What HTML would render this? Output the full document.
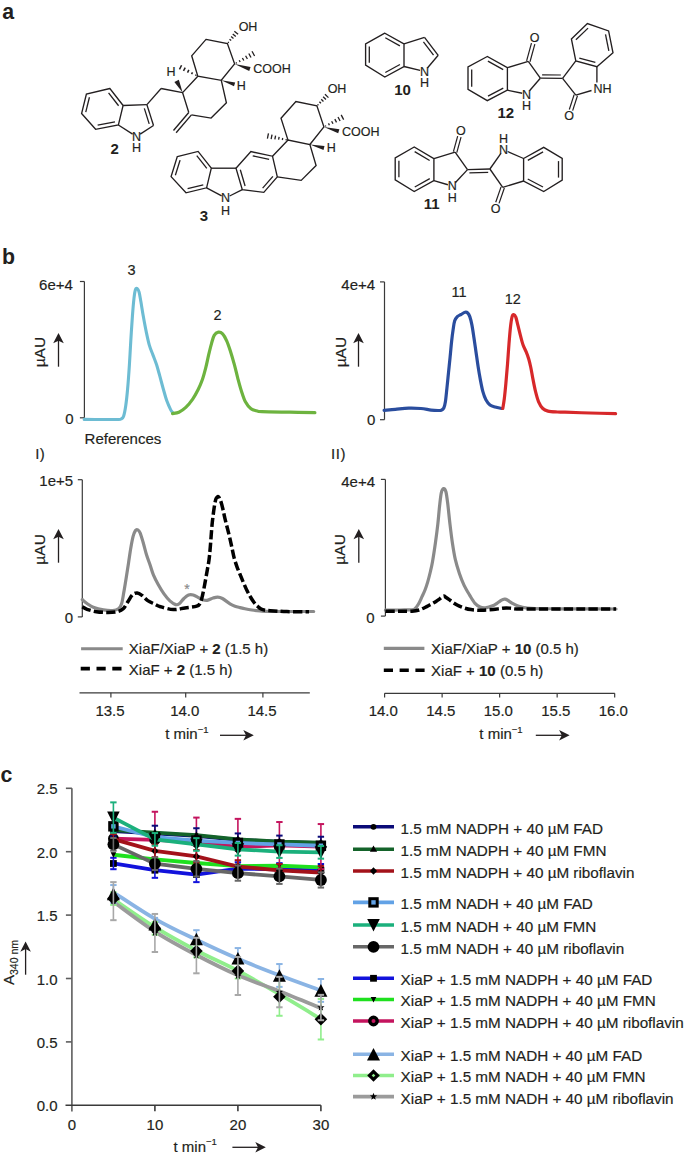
<!DOCTYPE html>
<html><head><meta charset="utf-8"><style>
html,body{margin:0;padding:0;background:#fff;}
body{width:685px;height:1156px;overflow:hidden;}
svg{display:block;font-family:"Liberation Sans", sans-serif;}
</style></head><body>
<svg width="685" height="1156" viewBox="0 0 685 1156">
<rect width="685" height="1156" fill="#fff"/>
<text x="2.2" y="18.8" font-size="21.3" text-anchor="start" font-weight="bold" fill="#231f20" >a</text>
<text x="2" y="263.8" font-size="21.3" text-anchor="start" font-weight="bold" fill="#231f20" >b</text>
<text x="0.5" y="782" font-size="21.3" text-anchor="start" font-weight="bold" fill="#231f20" >c</text>
<polygon points="109.9,88.5 86.4,94 81.6,113.5 95.6,129.3 118.4,125 123.1,105.5" fill="none" stroke="#231f20" stroke-width="1.35" stroke-linejoin="miter" />
<line x1="89.42" y1="97.22" x2="85.77" y2="112.04" stroke="#231f20" stroke-width="1.3" />
<line x1="108.56" y1="92.81" x2="118.59" y2="105.73" stroke="#231f20" stroke-width="1.3" />
<line x1="97.65" y1="125.15" x2="114.98" y2="121.88" stroke="#231f20" stroke-width="1.3" />
<line x1="123.1" y1="105.5" x2="146.9" y2="104.6" stroke="#231f20" stroke-width="1.35" />
<line x1="146.9" y1="104.6" x2="153.5" y2="125.5" stroke="#231f20" stroke-width="1.35" />
<line x1="153.5" y1="125.5" x2="140.18" y2="134.07" stroke="#231f20" stroke-width="1.35" />
<line x1="118.4" y1="125" x2="132.61" y2="134.08" stroke="#231f20" stroke-width="1.35" />
<line x1="144.33" y1="108.4" x2="149.21" y2="123.87" stroke="#231f20" stroke-width="1.3" />
<text x="136.4" y="141.1" font-size="12.5" text-anchor="middle" font-weight="normal" fill="#231f20" stroke="#231f20" stroke-width="0.18" >N</text>
<text x="136.4" y="152.3" font-size="12.5" text-anchor="middle" font-weight="normal" fill="#231f20" stroke="#231f20" stroke-width="0.18" >H</text>
<text x="114.6" y="154.16" font-size="15" text-anchor="middle" font-weight="bold" fill="#231f20" >2</text>
<line x1="146.9" y1="104.6" x2="161.1" y2="88.5" stroke="#231f20" stroke-width="1.35" />
<line x1="161.1" y1="88.5" x2="182.6" y2="92.6" stroke="#231f20" stroke-width="1.35" />
<polygon points="206,39.4 227.4,43.5 234.6,63.9 221.3,80.3 197.8,76.2 191.7,55.8" fill="none" stroke="#231f20" stroke-width="1.35" stroke-linejoin="miter" />
<line x1="188.77" y1="112.56" x2="173.47" y2="130.46" stroke="#231f20" stroke-width="1.35" />
<line x1="191.43" y1="114.84" x2="176.13" y2="132.74" stroke="#231f20" stroke-width="1.35" />
<polyline points="191.43,114.84 211.1,118.1 226.4,102.8 221.3,80.3" fill="none" stroke="#231f20" stroke-width="1.35" stroke-linejoin="miter" />
<polyline points="188.77,112.56 182.6,92.6 197.8,76.2" fill="none" stroke="#231f20" stroke-width="1.35" stroke-linejoin="miter" />
<polygon points="182.6,92.6 178.83,79.67 174.37,81.93" fill="#231f20"/>
<line x1="195.6" y1="75.75" x2="196.16" y2="74.67" stroke="#231f20" stroke-width="1.5" />
<line x1="191.57" y1="74.15" x2="192.51" y2="72.31" stroke="#231f20" stroke-width="1.5" />
<line x1="187.54" y1="72.54" x2="188.86" y2="69.96" stroke="#231f20" stroke-width="1.5" />
<line x1="183.5" y1="70.93" x2="185.22" y2="67.61" stroke="#231f20" stroke-width="1.5" />
<line x1="179.47" y1="69.33" x2="181.57" y2="65.25" stroke="#231f20" stroke-width="1.5" />
<text x="171" y="75.9" font-size="12.5" text-anchor="middle" font-weight="normal" fill="#231f20" stroke="#231f20" stroke-width="0.18" >H</text>
<polygon points="221.3,80.3 234.01,86.31 235.19,82.49" fill="#231f20"/>
<text x="241.2" y="89.5" font-size="12.5" text-anchor="middle" font-weight="normal" fill="#231f20" stroke="#231f20" stroke-width="0.18" >H</text>
<line x1="227.9" y1="41.91" x2="228.86" y2="42.71" stroke="#231f20" stroke-width="1.3" />
<line x1="229.51" y1="39.25" x2="231.17" y2="40.61" stroke="#231f20" stroke-width="1.3" />
<line x1="231.12" y1="36.58" x2="233.48" y2="38.52" stroke="#231f20" stroke-width="1.3" />
<line x1="232.74" y1="33.91" x2="235.78" y2="36.43" stroke="#231f20" stroke-width="1.3" />
<line x1="234.35" y1="31.25" x2="238.09" y2="34.33" stroke="#231f20" stroke-width="1.3" />
<text x="248" y="31.3" font-size="12.5" text-anchor="middle" font-weight="normal" fill="#231f20" stroke="#231f20" stroke-width="0.18" >OH</text>
<line x1="236.01" y1="62.43" x2="236.59" y2="63.5" stroke="#231f20" stroke-width="1.3" />
<line x1="239.21" y1="60.2" x2="240.19" y2="62" stroke="#231f20" stroke-width="1.3" />
<line x1="242.41" y1="57.97" x2="243.79" y2="60.5" stroke="#231f20" stroke-width="1.3" />
<line x1="245.61" y1="55.74" x2="247.39" y2="59" stroke="#231f20" stroke-width="1.3" />
<line x1="248.81" y1="53.51" x2="250.99" y2="57.49" stroke="#231f20" stroke-width="1.3" />
<line x1="252" y1="51.27" x2="254.6" y2="55.99" stroke="#231f20" stroke-width="1.3" />
<polygon points="234.6,63.9 249.24,70.99 250.56,67.01" fill="#231f20"/>
<text x="272" y="73.3" font-size="12.5" text-anchor="middle" font-weight="normal" fill="#231f20" stroke="#231f20" stroke-width="0.18" >COOH</text>
<polygon points="177.3,156.6 198.1,151.4 211.3,168.2 206.6,187.8 186,192.8 171.1,176.6" fill="none" stroke="#231f20" stroke-width="1.35" stroke-linejoin="miter" />
<line x1="180.09" y1="160.1" x2="175.38" y2="175.3" stroke="#231f20" stroke-width="1.3" />
<line x1="196.77" y1="155.7" x2="206.81" y2="168.47" stroke="#231f20" stroke-width="1.3" />
<line x1="203.26" y1="184.8" x2="187.6" y2="188.6" stroke="#231f20" stroke-width="1.3" />
<polygon points="236,168.2 250.9,151.6 272.5,156.2 277.3,176.9 263.8,192.4 242.3,189.6" fill="none" stroke="#231f20" stroke-width="1.35" stroke-linejoin="miter" />
<line x1="252.72" y1="155.77" x2="269.14" y2="159.27" stroke="#231f20" stroke-width="1.3" />
<line x1="272.89" y1="176.33" x2="262.63" y2="188.11" stroke="#231f20" stroke-width="1.3" />
<line x1="245.09" y1="185.99" x2="240.31" y2="169.72" stroke="#231f20" stroke-width="1.3" />
<line x1="211.3" y1="168.2" x2="236" y2="168.2" stroke="#231f20" stroke-width="1.35" />
<line x1="206.6" y1="187.8" x2="221.64" y2="195.87" stroke="#231f20" stroke-width="1.35" />
<line x1="242.3" y1="189.6" x2="229.62" y2="195.98" stroke="#231f20" stroke-width="1.35" />
<text x="225.6" y="202.3" font-size="12.5" text-anchor="middle" font-weight="normal" fill="#231f20" stroke="#231f20" stroke-width="0.18" >N</text>
<text x="225.6" y="215.4" font-size="12.5" text-anchor="middle" font-weight="normal" fill="#231f20" stroke="#231f20" stroke-width="0.18" >H</text>
<text x="204" y="220.56" font-size="15" text-anchor="middle" font-weight="bold" fill="#231f20" >3</text>
<polyline points="272.5,156.2 288,140.1 309.9,144.5 316.1,165.5 301.2,180.4 277.3,176.9" fill="none" stroke="#231f20" stroke-width="1.35" stroke-linejoin="miter" />
<polyline points="288,140.1 281,118.2 295.9,101.5 316.9,105.9 323.9,126.9 309.9,144.5" fill="none" stroke="#231f20" stroke-width="1.35" stroke-linejoin="miter" />
<line x1="286.06" y1="140.33" x2="286.29" y2="139.14" stroke="#231f20" stroke-width="1.3" />
<line x1="282.32" y1="140" x2="282.73" y2="138" stroke="#231f20" stroke-width="1.3" />
<line x1="278.59" y1="139.68" x2="279.16" y2="136.85" stroke="#231f20" stroke-width="1.3" />
<line x1="274.86" y1="139.36" x2="275.59" y2="135.71" stroke="#231f20" stroke-width="1.3" />
<line x1="271.13" y1="139.03" x2="272.02" y2="134.57" stroke="#231f20" stroke-width="1.3" />
<line x1="267.39" y1="138.71" x2="268.46" y2="133.43" stroke="#231f20" stroke-width="1.3" />
<line x1="317.54" y1="104.35" x2="318.44" y2="105.23" stroke="#231f20" stroke-width="1.3" />
<line x1="319.4" y1="101.82" x2="320.94" y2="103.32" stroke="#231f20" stroke-width="1.3" />
<line x1="321.26" y1="99.28" x2="323.44" y2="101.42" stroke="#231f20" stroke-width="1.3" />
<line x1="323.12" y1="96.75" x2="325.94" y2="99.51" stroke="#231f20" stroke-width="1.3" />
<line x1="324.98" y1="94.21" x2="328.44" y2="97.61" stroke="#231f20" stroke-width="1.3" />
<text x="337" y="93.1" font-size="12.5" text-anchor="middle" font-weight="normal" fill="#231f20" stroke="#231f20" stroke-width="0.18" >OH</text>
<line x1="325.3" y1="125.49" x2="325.86" y2="126.56" stroke="#231f20" stroke-width="1.3" />
<line x1="328.48" y1="123.37" x2="329.42" y2="125.18" stroke="#231f20" stroke-width="1.3" />
<line x1="331.65" y1="121.25" x2="332.98" y2="123.8" stroke="#231f20" stroke-width="1.3" />
<line x1="334.83" y1="119.13" x2="336.54" y2="122.42" stroke="#231f20" stroke-width="1.3" />
<line x1="338" y1="117.01" x2="340.1" y2="121.04" stroke="#231f20" stroke-width="1.3" />
<line x1="341.18" y1="114.89" x2="343.66" y2="119.66" stroke="#231f20" stroke-width="1.3" />
<polygon points="323.9,126.9 338.21,133.31 339.39,129.29" fill="#231f20"/>
<text x="360.7" y="136" font-size="12.5" text-anchor="middle" font-weight="normal" fill="#231f20" stroke="#231f20" stroke-width="0.18" >COOH</text>
<polygon points="309.9,144.5 323.52,149.94 324.48,146.06" fill="#231f20"/>
<text x="331.3" y="151.9" font-size="12.5" text-anchor="middle" font-weight="normal" fill="#231f20" stroke="#231f20" stroke-width="0.18" >H</text>
<polygon points="384.8,33.2 365.6,43.9 365.6,65.2 384.8,77 404,66.5 404,43.9" fill="none" stroke="#231f20" stroke-width="1.35" stroke-linejoin="miter" />
<line x1="369.3" y1="46.46" x2="369.3" y2="62.64" stroke="#231f20" stroke-width="1.3" />
<line x1="385.3" y1="37.72" x2="399.89" y2="45.85" stroke="#231f20" stroke-width="1.3" />
<line x1="385.33" y1="72.49" x2="399.92" y2="64.51" stroke="#231f20" stroke-width="1.3" />
<line x1="404" y1="43.9" x2="424.5" y2="37.3" stroke="#231f20" stroke-width="1.35" />
<line x1="424.5" y1="37.3" x2="438.2" y2="55.3" stroke="#231f20" stroke-width="1.35" />
<line x1="438.2" y1="55.3" x2="427.42" y2="67.97" stroke="#231f20" stroke-width="1.35" />
<line x1="404" y1="66.5" x2="420.12" y2="70.35" stroke="#231f20" stroke-width="1.35" />
<line x1="423.42" y1="41.82" x2="433.55" y2="55.14" stroke="#231f20" stroke-width="1.3" />
<text x="424.5" y="75.7" font-size="12.5" text-anchor="middle" font-weight="normal" fill="#231f20" stroke="#231f20" stroke-width="0.18" >N</text>
<text x="424.5" y="86.9" font-size="12.5" text-anchor="middle" font-weight="normal" fill="#231f20" stroke="#231f20" stroke-width="0.18" >H</text>
<text x="402.6" y="95.26" font-size="15" text-anchor="middle" font-weight="bold" fill="#231f20" >10</text>
<polygon points="487.3,56.5 468,66.9 468,89.4 487.3,100.7 507.4,90.2 507.4,67.7" fill="none" stroke="#231f20" stroke-width="1.35" stroke-linejoin="miter" />
<line x1="471.7" y1="69.6" x2="471.7" y2="86.7" stroke="#231f20" stroke-width="1.3" />
<line x1="487.91" y1="61.08" x2="503.19" y2="69.59" stroke="#231f20" stroke-width="1.3" />
<line x1="488" y1="96.16" x2="503.27" y2="88.18" stroke="#231f20" stroke-width="1.3" />
<line x1="507.4" y1="67.7" x2="528.3" y2="61.3" stroke="#231f20" stroke-width="1.35" />
<line x1="528.3" y1="61.3" x2="540.3" y2="78.2" stroke="#231f20" stroke-width="1.35" />
<line x1="540.3" y1="78.2" x2="529.53" y2="90.78" stroke="#231f20" stroke-width="1.35" />
<line x1="507.4" y1="90.2" x2="522.19" y2="93.28" stroke="#231f20" stroke-width="1.35" />
<line x1="529.99" y1="61.76" x2="534.85" y2="44.06" stroke="#231f20" stroke-width="1.2" />
<line x1="526.61" y1="60.84" x2="531.48" y2="43.13" stroke="#231f20" stroke-width="1.2" />
<text x="534.7" y="42.3" font-size="12.5" text-anchor="middle" font-weight="normal" fill="#231f20" stroke="#231f20" stroke-width="0.18" >O</text>
<text x="526.6" y="98.5" font-size="12.5" text-anchor="middle" font-weight="normal" fill="#231f20" stroke="#231f20" stroke-width="0.18" >N</text>
<text x="526.6" y="109.9" font-size="12.5" text-anchor="middle" font-weight="normal" fill="#231f20" stroke="#231f20" stroke-width="0.18" >H</text>
<text x="505.8" y="117.86" font-size="15" text-anchor="middle" font-weight="bold" fill="#231f20" >12</text>
<line x1="540.3" y1="78.2" x2="562.6" y2="78.4" stroke="#231f20" stroke-width="1.35" />
<line x1="542.11" y1="74.82" x2="560.85" y2="74.98" stroke="#231f20" stroke-width="1.2" />
<polygon points="575.8,60.9 571.4,39 587.4,23.6 608.6,30.9 613,52.8 596.9,66.7" fill="none" stroke="#231f20" stroke-width="1.35" stroke-linejoin="miter" />
<line x1="575.89" y1="39.82" x2="588.05" y2="28.11" stroke="#231f20" stroke-width="1.3" />
<line x1="605.5" y1="34.26" x2="608.84" y2="50.9" stroke="#231f20" stroke-width="1.3" />
<line x1="579.31" y1="58.03" x2="595.35" y2="62.44" stroke="#231f20" stroke-width="1.3" />
<line x1="562.6" y1="78.4" x2="575.8" y2="60.9" stroke="#231f20" stroke-width="1.35" />
<line x1="562.6" y1="78.4" x2="575.8" y2="95.2" stroke="#231f20" stroke-width="1.35" />
<line x1="596.9" y1="66.7" x2="596.9" y2="82.5" stroke="#231f20" stroke-width="1.35" />
<line x1="575.8" y1="95.2" x2="591.5" y2="90.5" stroke="#231f20" stroke-width="1.35" />
<line x1="574.13" y1="94.66" x2="569.32" y2="109.54" stroke="#231f20" stroke-width="1.2" />
<line x1="577.47" y1="95.74" x2="572.65" y2="110.62" stroke="#231f20" stroke-width="1.2" />
<text x="569.2" y="119.9" font-size="12.5" text-anchor="middle" font-weight="normal" fill="#231f20" stroke="#231f20" stroke-width="0.18" >O</text>
<text x="602.5" y="92.9" font-size="12.5" text-anchor="middle" font-weight="normal" fill="#231f20" stroke="#231f20" stroke-width="0.18" >NH</text>
<polygon points="414.2,147 395.2,158 395.2,179.9 414.2,191.5 433.9,180.6 433.9,158.7" fill="none" stroke="#231f20" stroke-width="1.35" stroke-linejoin="miter" />
<line x1="398.9" y1="160.63" x2="398.9" y2="177.27" stroke="#231f20" stroke-width="1.3" />
<line x1="414.67" y1="151.59" x2="429.65" y2="160.48" stroke="#231f20" stroke-width="1.3" />
<line x1="414.77" y1="186.95" x2="429.74" y2="178.67" stroke="#231f20" stroke-width="1.3" />
<line x1="433.9" y1="158.7" x2="455.1" y2="152.1" stroke="#231f20" stroke-width="1.35" />
<line x1="455.1" y1="152.1" x2="467.5" y2="169.6" stroke="#231f20" stroke-width="1.35" />
<line x1="467.5" y1="169.6" x2="455.27" y2="182.71" stroke="#231f20" stroke-width="1.35" />
<line x1="433.9" y1="180.6" x2="447.88" y2="184.73" stroke="#231f20" stroke-width="1.35" />
<line x1="456.79" y1="152.56" x2="461.05" y2="137.06" stroke="#231f20" stroke-width="1.2" />
<line x1="453.41" y1="151.64" x2="457.68" y2="136.13" stroke="#231f20" stroke-width="1.2" />
<text x="460.9" y="135.3" font-size="12.5" text-anchor="middle" font-weight="normal" fill="#231f20" stroke="#231f20" stroke-width="0.18" >O</text>
<text x="452.2" y="190.3" font-size="12.5" text-anchor="middle" font-weight="normal" fill="#231f20" stroke="#231f20" stroke-width="0.18" >N</text>
<text x="452.2" y="201.7" font-size="12.5" text-anchor="middle" font-weight="normal" fill="#231f20" stroke="#231f20" stroke-width="0.18" >H</text>
<text x="431.7" y="209.16" font-size="15" text-anchor="middle" font-weight="bold" fill="#231f20" >11</text>
<line x1="467.5" y1="169.6" x2="489.9" y2="169" stroke="#231f20" stroke-width="1.35" />
<line x1="469.38" y1="172.95" x2="488.2" y2="172.45" stroke="#231f20" stroke-width="1.2" />
<line x1="489.9" y1="169" x2="500.91" y2="153.38" stroke="#231f20" stroke-width="1.35" />
<line x1="523.6" y1="158.5" x2="507.62" y2="151.5" stroke="#231f20" stroke-width="1.35" />
<line x1="489.9" y1="169" x2="502.7" y2="187.4" stroke="#231f20" stroke-width="1.35" />
<line x1="502.7" y1="187.4" x2="523.6" y2="181" stroke="#231f20" stroke-width="1.35" />
<line x1="501.05" y1="186.83" x2="495.73" y2="202.25" stroke="#231f20" stroke-width="1.2" />
<line x1="504.35" y1="187.97" x2="499.04" y2="203.39" stroke="#231f20" stroke-width="1.2" />
<text x="495.5" y="212.6" font-size="12.5" text-anchor="middle" font-weight="normal" fill="#231f20" stroke="#231f20" stroke-width="0.18" >O</text>
<text x="503.5" y="154" font-size="12.5" text-anchor="middle" font-weight="normal" fill="#231f20" stroke="#231f20" stroke-width="0.18" >N</text>
<text x="503.5" y="142.8" font-size="12.5" text-anchor="middle" font-weight="normal" fill="#231f20" stroke="#231f20" stroke-width="0.18" >H</text>
<polygon points="523.6,158.5 543.7,147.3 562.2,158.5 562.2,180.2 543.7,191.5 523.6,181" fill="none" stroke="#231f20" stroke-width="1.35" stroke-linejoin="miter" />
<line x1="527.81" y1="160.39" x2="543.09" y2="151.88" stroke="#231f20" stroke-width="1.3" />
<line x1="558.5" y1="161.1" x2="558.5" y2="177.6" stroke="#231f20" stroke-width="1.3" />
<line x1="543" y1="186.96" x2="527.73" y2="178.98" stroke="#231f20" stroke-width="1.3" />
<line x1="84.4" y1="281.5" x2="84.4" y2="417.8" stroke="#3a3a3a" stroke-width="1.2" />
<line x1="79.9" y1="281.5" x2="84.4" y2="281.5" stroke="#3a3a3a" stroke-width="1.2" />
<line x1="79.9" y1="417.8" x2="84.4" y2="417.8" stroke="#3a3a3a" stroke-width="1.2" />
<text x="72.9" y="289.66" font-size="15" text-anchor="end" font-weight="normal" fill="#231f20" stroke="#231f20" stroke-width="0.18" >6e+4</text>
<text x="73.7" y="423.56" font-size="15" text-anchor="end" font-weight="normal" fill="#231f20" stroke="#231f20" stroke-width="0.18" >0</text>
<text transform="translate(45,352.1) rotate(-90)" x="0" y="0" font-size="15.5" text-anchor="middle" fill="#231f20" stroke="#231f20" stroke-width="0.18">µAU</text>
<line x1="58.5" y1="366.7" x2="58.5" y2="339.1" stroke="#231f20" stroke-width="1.3" />
<polygon points="58.5,333.1 63.8,343.3 58.5,340.7 53.2,343.3" fill="#231f20"/>
<text x="131.5" y="274.99" font-size="14.5" text-anchor="middle" font-weight="normal" fill="#231f20" stroke="#231f20" stroke-width="0.18" >3</text>
<text x="217.5" y="320.49" font-size="14.5" text-anchor="middle" font-weight="normal" fill="#231f20" stroke="#231f20" stroke-width="0.18" >2</text>
<text x="84.6" y="444.16" font-size="15" text-anchor="start" font-weight="normal" fill="#231f20" stroke="#231f20" stroke-width="0.18" >References</text>
<text x="35.2" y="458.76" font-size="15" text-anchor="start" font-weight="normal" fill="#231f20" stroke="#231f20" stroke-width="0.18" letter-spacing="0.4">I)</text>
<path d="M84.2,419.4 C86.83,419.42 94.37,419.48 100,419.5 C105.63,419.52 114.5,419.58 118,419.5 C121.5,419.42 120.08,419.5 121,419 C121.92,418.5 122.72,418.67 123.5,416.5 C124.28,414.33 125.02,410.58 125.7,406 C126.38,401.42 126.98,395.87 127.6,389 C128.22,382.13 128.87,372.87 129.4,364.8 C129.93,356.73 130.3,348.68 130.8,340.6 C131.3,332.52 131.87,323.37 132.4,316.3 C132.93,309.23 133.5,302.63 134,298.2 C134.5,293.77 134.87,291.32 135.4,289.7 C135.93,288.08 136.58,288.1 137.2,288.5 C137.82,288.9 138.48,289.88 139.1,292.1 C139.72,294.32 140.2,297.77 140.9,301.8 C141.6,305.83 142.4,311.25 143.3,316.3 C144.2,321.35 145.28,327.25 146.3,332.1 C147.32,336.95 148.28,341.57 149.4,345.4 C150.52,349.23 151.8,351.87 153,355.1 C154.2,358.33 155.48,361.37 156.6,364.8 C157.72,368.23 158.58,371.67 159.7,375.7 C160.82,379.73 162.1,384.77 163.3,389 C164.5,393.23 165.68,397.67 166.9,401.1 C168.12,404.53 169.62,407.65 170.6,409.6 C171.58,411.55 172.43,412.27 172.8,412.8" fill="none" stroke="#6dbcd3" stroke-width="3.1" stroke-linejoin="round" stroke-linecap="round" />
<path d="M172.6,413.6 C173.65,413.37 176.7,413.23 178.9,412.2 C181.1,411.17 183.5,409.58 185.8,407.4 C188.1,405.22 190.62,402.12 192.7,399.1 C194.78,396.08 196.68,392.55 198.3,389.3 C199.92,386.05 201.13,383.28 202.4,379.6 C203.67,375.92 204.85,371.35 205.9,367.2 C206.95,363.05 207.77,358.63 208.7,354.7 C209.63,350.77 210.58,346.83 211.5,343.6 C212.42,340.37 213.05,337.2 214.2,335.3 C215.35,333.4 217,332.43 218.4,332.2 C219.8,331.97 221.22,332.47 222.6,333.9 C223.98,335.33 225.43,338.03 226.7,340.8 C227.97,343.57 228.93,346.57 230.2,350.5 C231.47,354.43 233.03,359.77 234.3,364.4 C235.57,369.03 236.63,373.92 237.8,378.3 C238.97,382.68 240.03,386.78 241.3,390.7 C242.57,394.62 243.78,398.78 245.4,401.8 C247.02,404.82 249.15,407.3 251,408.8 C252.85,410.3 254.67,410.33 256.5,410.8 C258.33,411.27 256.42,411.37 262,411.6 C267.58,411.83 281.18,412.02 290,412.2 C298.82,412.38 310.75,412.62 314.9,412.7" fill="none" stroke="#6db33f" stroke-width="3.2" stroke-linejoin="round" stroke-linecap="round" />
<line x1="384.5" y1="281.9" x2="384.5" y2="419.7" stroke="#3a3a3a" stroke-width="1.2" />
<line x1="380" y1="281.9" x2="384.5" y2="281.9" stroke="#3a3a3a" stroke-width="1.2" />
<line x1="380" y1="419.7" x2="384.5" y2="419.7" stroke="#3a3a3a" stroke-width="1.2" />
<text x="375.1" y="289.96" font-size="15" text-anchor="end" font-weight="normal" fill="#231f20" stroke="#231f20" stroke-width="0.18" >4e+4</text>
<text x="375.4" y="425.46" font-size="15" text-anchor="end" font-weight="normal" fill="#231f20" stroke="#231f20" stroke-width="0.18" >0</text>
<text transform="translate(346.4,352.1) rotate(-90)" x="0" y="0" font-size="15.5" text-anchor="middle" fill="#231f20" stroke="#231f20" stroke-width="0.18">µAU</text>
<line x1="358.5" y1="366.7" x2="358.5" y2="339.1" stroke="#231f20" stroke-width="1.3" />
<polygon points="358.5,333.1 363.8,343.3 358.5,340.7 353.2,343.3" fill="#231f20"/>
<text x="459" y="297.39" font-size="14.5" text-anchor="middle" font-weight="normal" fill="#231f20" stroke="#231f20" stroke-width="0.18" >11</text>
<text x="512.8" y="303.99" font-size="14.5" text-anchor="middle" font-weight="normal" fill="#231f20" stroke="#231f20" stroke-width="0.18" >12</text>
<text x="331" y="458.76" font-size="15" text-anchor="start" font-weight="normal" fill="#231f20" stroke="#231f20" stroke-width="0.18" letter-spacing="0.6">II)</text>
<path d="M384.1,410.3 C385.97,410.13 391.22,409.67 395.3,409.3 C399.38,408.93 404.33,408.23 408.6,408.1 C412.87,407.97 417.15,408.17 420.9,408.5 C424.65,408.83 428.25,409.77 431.1,410.1 C433.95,410.43 436.3,410.48 438,410.5 C439.7,410.52 440.33,410.62 441.3,410.2 C442.27,409.78 443.12,409.4 443.8,408 C444.48,406.6 444.88,405.08 445.4,401.8 C445.92,398.52 446.38,393.15 446.9,388.3 C447.42,383.45 447.97,377.9 448.5,372.7 C449.03,367.5 449.58,362.3 450.1,357.1 C450.62,351.9 451.08,346.17 451.6,341.5 C452.12,336.83 452.68,332.55 453.2,329.1 C453.72,325.65 454.02,322.88 454.7,320.8 C455.38,318.72 456.25,317.65 457.3,316.6 C458.35,315.55 459.7,315.22 461,314.5 C462.3,313.78 463.98,312.55 465.1,312.3 C466.22,312.05 466.92,312.28 467.7,313 C468.48,313.72 469.1,314.62 469.8,316.6 C470.5,318.58 471.22,321.43 471.9,324.9 C472.58,328.37 473.22,332.9 473.9,337.4 C474.58,341.9 475.3,347.05 476,351.9 C476.7,356.75 477.4,362 478.1,366.5 C478.8,371 479.42,374.75 480.2,378.9 C480.98,383.05 481.85,387.93 482.8,391.4 C483.75,394.87 484.7,397.45 485.9,399.7 C487.1,401.95 488.45,403.68 490,404.9 C491.55,406.12 493.2,406.4 495.2,407 C497.2,407.6 500.87,408.25 502,408.5" fill="none" stroke="#2a4d9e" stroke-width="3.2" stroke-linejoin="round" stroke-linecap="round" />
<path d="M502.8,408.5 C503.05,406.87 503.78,402.93 504.3,398.7 C504.82,394.47 505.37,388.82 505.9,383.1 C506.43,377.38 506.98,370.98 507.5,364.4 C508.02,357.82 508.48,350 509,343.6 C509.52,337.2 510.08,330.5 510.6,326 C511.12,321.5 511.58,318.52 512.1,316.6 C512.62,314.68 513.08,314.42 513.7,314.5 C514.32,314.58 515.12,315.37 515.8,317.1 C516.48,318.83 517.03,321.87 517.8,324.9 C518.57,327.93 519.53,332 520.4,335.3 C521.27,338.6 522.03,341.93 523,344.7 C523.97,347.47 525.23,349.48 526.2,351.9 C527.17,354.32 528.03,356.6 528.8,359.2 C529.57,361.8 530.12,364.22 530.8,367.5 C531.48,370.78 532.12,374.92 532.9,378.9 C533.68,382.88 534.55,387.58 535.5,391.4 C536.45,395.22 537.38,398.95 538.6,401.8 C539.82,404.65 541.23,406.95 542.8,408.5 C544.37,410.05 545.58,410.52 548,411.1 C550.42,411.68 554.47,411.82 557.3,412 C560.13,412.18 559.55,412.03 565,412.2 C570.45,412.37 581.57,412.75 590,413 C598.43,413.25 611.33,413.58 615.6,413.7" fill="none" stroke="#d7282a" stroke-width="3.2" stroke-linejoin="round" stroke-linecap="round" />
<line x1="82.3" y1="479.7" x2="82.3" y2="616.9" stroke="#3a3a3a" stroke-width="1.2" />
<line x1="77.8" y1="479.7" x2="82.3" y2="479.7" stroke="#3a3a3a" stroke-width="1.2" />
<line x1="77.8" y1="616.9" x2="82.3" y2="616.9" stroke="#3a3a3a" stroke-width="1.2" />
<text x="73.1" y="486.16" font-size="15" text-anchor="end" font-weight="normal" fill="#231f20" stroke="#231f20" stroke-width="0.18" >1e+5</text>
<text x="73.1" y="622.76" font-size="15" text-anchor="end" font-weight="normal" fill="#231f20" stroke="#231f20" stroke-width="0.18" >0</text>
<text transform="translate(45.3,549.4) rotate(-90)" x="0" y="0" font-size="15.5" text-anchor="middle" fill="#231f20" stroke="#231f20" stroke-width="0.18">µAU</text>
<line x1="58.5" y1="562.7" x2="58.5" y2="535.1" stroke="#231f20" stroke-width="1.3" />
<polygon points="58.5,529.1 63.8,539.3 58.5,536.7 53.2,539.3" fill="#231f20"/>
<path d="M82.3,599.6 C83.08,600.25 85.05,602.17 87,603.5 C88.95,604.83 91.27,606.53 94,607.6 C96.73,608.67 100.28,609.42 103.4,609.9 C106.52,610.38 110.18,610.68 112.7,610.5 C115.22,610.32 117.03,609.87 118.5,608.8 C119.97,607.73 120.62,606.83 121.5,604.1 C122.38,601.37 123.03,596.68 123.8,592.4 C124.57,588.12 125.32,583.27 126.1,578.4 C126.88,573.53 127.72,568.27 128.5,563.2 C129.28,558.13 130.03,552.47 130.8,548 C131.57,543.53 132.32,539.32 133.1,536.4 C133.88,533.48 134.72,531.58 135.5,530.5 C136.28,529.42 137.03,529.52 137.8,529.9 C138.57,530.28 139.22,530.75 140.1,532.8 C140.98,534.85 142.02,538.5 143.1,542.2 C144.18,545.9 145.43,551.2 146.6,555 C147.77,558.8 148.95,561.63 150.1,565 C151.25,568.37 152.15,571.95 153.5,575.2 C154.85,578.45 156.45,581.38 158.2,584.5 C159.95,587.62 162.05,591.17 164,593.9 C165.95,596.63 167.95,599.12 169.9,600.9 C171.85,602.68 174.15,604.12 175.7,604.6 C177.25,605.08 177.83,604.82 179.2,603.8 C180.57,602.78 182.35,599.97 183.9,598.5 C185.45,597.03 186.95,595.58 188.5,595 C190.05,594.42 191.63,594.6 193.2,595 C194.77,595.4 196.33,596.62 197.9,597.4 C199.47,598.18 201.05,599.22 202.6,599.7 C204.15,600.18 205.45,600.58 207.2,600.3 C208.95,600.02 211.35,598.53 213.1,598 C214.85,597.47 216.15,597.02 217.7,597.1 C219.25,597.18 220.35,597.38 222.4,598.5 C224.45,599.62 227.9,602.52 230,603.8 C232.1,605.08 233.32,605.57 235,606.2 C236.68,606.83 238.43,607.17 240.1,607.6 C241.77,608.03 243.05,608.4 245,608.8 C246.95,609.2 249.3,609.65 251.8,610 C254.3,610.35 257.28,610.67 260,610.9 C262.72,611.13 263.1,611.3 268.1,611.4 C273.1,611.5 282.4,611.48 290,611.5 C297.6,611.52 309.75,611.5 313.7,611.5" fill="none" stroke="#8a8a8a" stroke-width="3.2" stroke-linejoin="round" stroke-linecap="round" />
<path d="M82.3,606.8 C83.08,607.22 84.65,608.48 87,609.3 C89.35,610.12 92.9,611.17 96.4,611.7 C99.9,612.23 104.5,612.5 108,612.5 C111.5,612.5 114.87,612.32 117.4,611.7 C119.93,611.08 121.45,610.45 123.2,608.8 C124.95,607.15 126.33,604.15 127.9,601.8 C129.47,599.45 131.05,596.17 132.6,594.7 C134.15,593.23 135.65,592.9 137.2,593 C138.75,593.1 140.15,594.03 141.9,595.3 C143.65,596.57 145.57,599.13 147.7,600.6 C149.83,602.07 152.57,603.08 154.7,604.1 C156.83,605.12 157.38,605.78 160.5,606.7 C163.62,607.62 169.32,609.4 173.4,609.6 C177.48,609.8 181.12,608.48 185,607.9 C188.88,607.32 194.17,606.88 196.7,606.1 C199.23,605.32 199.22,605.05 200.2,603.2 C201.18,601.35 201.82,598.3 202.6,595 C203.38,591.7 204.13,587.48 204.9,583.4 C205.67,579.32 206.52,574.4 207.2,570.5 C207.88,566.6 208.48,563.92 209,560 C209.52,556.08 209.8,552.77 210.3,547 C210.8,541.23 211.5,530.9 212,525.4 C212.5,519.9 212.87,517.4 213.3,514 C213.73,510.6 214.18,507.45 214.6,505 C215.02,502.55 215.37,500.63 215.8,499.3 C216.23,497.97 216.72,497.38 217.2,497 C217.68,496.62 218.23,496.58 218.7,497 C219.17,497.42 219.55,498.47 220,499.5 C220.45,500.53 220.9,501.53 221.4,503.2 C221.9,504.87 222.42,506.97 223,509.5 C223.58,512.03 224.2,515.4 224.9,518.4 C225.6,521.4 226.42,524.38 227.2,527.5 C227.98,530.62 228.82,533.77 229.6,537.1 C230.38,540.43 231.13,544 231.9,547.5 C232.67,551 233.35,554.88 234.2,558.1 C235.05,561.32 236.02,564.07 237,566.8 C237.98,569.53 239.02,571.85 240.1,574.5 C241.18,577.15 242.33,579.98 243.5,582.7 C244.67,585.42 245.93,588.42 247.1,590.8 C248.27,593.18 249.33,595.05 250.5,597 C251.67,598.95 252.93,600.97 254.1,602.5 C255.27,604.03 256.33,605.12 257.5,606.2 C258.67,607.28 259.85,608.33 261.1,609 C262.35,609.67 263.45,609.92 265,610.2 C266.55,610.48 266.77,610.47 270.4,610.7 C274.03,610.93 280.37,611.42 286.8,611.6 C293.23,611.78 305.3,611.77 309,611.8" fill="none" stroke="#000" stroke-width="3.5" stroke-linejoin="round" stroke-linecap="butt" stroke-dasharray="9.2,3.2"/>
<text x="187.1" y="593.5" font-size="14" text-anchor="middle" font-weight="normal" fill="#8a8a8a" stroke="#8a8a8a" stroke-width="0.18" >*</text>
<line x1="81.1" y1="648.8" x2="122.7" y2="648.8" stroke="#8a8a8a" stroke-width="3.0" />
<text x="128.8" y="654.16" font-size="15" text-anchor="start" font-weight="normal" fill="#231f20" stroke="#231f20" stroke-width="0.18" >XiaF/XiaP + <tspan font-weight="bold">2</tspan> (1.5 h)</text>
<line x1="80.7" y1="668.6" x2="121.5" y2="668.6" stroke="#000" stroke-width="3.6" stroke-dasharray="9.2,6.6"/>
<text x="128.8" y="675.16" font-size="15" text-anchor="start" font-weight="normal" fill="#231f20" stroke="#231f20" stroke-width="0.18" >XiaF + <tspan font-weight="bold">2</tspan> (1.5 h)</text>
<line x1="79.5" y1="692.8" x2="309.8" y2="692.8" stroke="#3a3a3a" stroke-width="1.2" />
<line x1="110.9" y1="692.8" x2="110.9" y2="697.6" stroke="#3a3a3a" stroke-width="1.2" />
<text x="110" y="716.46" font-size="15" text-anchor="middle" font-weight="normal" fill="#231f20" stroke="#231f20" stroke-width="0.18" >13.5</text>
<line x1="185.7" y1="692.8" x2="185.7" y2="697.6" stroke="#3a3a3a" stroke-width="1.2" />
<text x="184.8" y="716.46" font-size="15" text-anchor="middle" font-weight="normal" fill="#231f20" stroke="#231f20" stroke-width="0.18" >14.0</text>
<line x1="262.9" y1="692.8" x2="262.9" y2="697.6" stroke="#3a3a3a" stroke-width="1.2" />
<text x="262" y="716.46" font-size="15" text-anchor="middle" font-weight="normal" fill="#231f20" stroke="#231f20" stroke-width="0.18" >14.5</text>
<text x="165.2" y="739.16" font-size="15" text-anchor="start" font-weight="normal" fill="#231f20" stroke="#231f20" stroke-width="0.18" >t min<tspan font-size="9.5" dy="-6.3">−1</tspan></text>
<line x1="220" y1="735.3" x2="247.8" y2="735.3" stroke="#231f20" stroke-width="1.3" />
<polygon points="253.8,735.3 243.3,730.1 246,735.3 243.3,740.5" fill="#231f20"/>
<line x1="385.4" y1="479.4" x2="385.4" y2="616.1" stroke="#3a3a3a" stroke-width="1.2" />
<line x1="380.9" y1="479.4" x2="385.4" y2="479.4" stroke="#3a3a3a" stroke-width="1.2" />
<line x1="380.9" y1="616.1" x2="385.4" y2="616.1" stroke="#3a3a3a" stroke-width="1.2" />
<text x="375" y="486.86" font-size="15" text-anchor="end" font-weight="normal" fill="#231f20" stroke="#231f20" stroke-width="0.18" >4e+4</text>
<text x="374.5" y="622.76" font-size="15" text-anchor="end" font-weight="normal" fill="#231f20" stroke="#231f20" stroke-width="0.18" >0</text>
<text transform="translate(345.3,549.4) rotate(-90)" x="0" y="0" font-size="15.5" text-anchor="middle" fill="#231f20" stroke="#231f20" stroke-width="0.18">µAU</text>
<line x1="358.8" y1="562.7" x2="358.8" y2="535.1" stroke="#231f20" stroke-width="1.3" />
<polygon points="358.8,529.1 364.1,539.3 358.8,536.7 353.5,539.3" fill="#231f20"/>
<path d="M385.4,610.2 C387.83,610.17 395.57,610.07 400,610 C404.43,609.93 409.5,610.03 412,609.8 C414.5,609.57 413.92,609.57 415,608.6 C416.08,607.63 417.33,605.98 418.5,604 C419.67,602.02 420.92,599.03 422,596.7 C423.08,594.37 424.03,592.52 425,590 C425.97,587.48 426.92,584.6 427.8,581.6 C428.68,578.6 429.52,575.32 430.3,572 C431.08,568.68 431.65,566.53 432.5,561.7 C433.35,556.87 434.52,549.22 435.4,543 C436.28,536.78 437.12,530.43 437.8,524.4 C438.48,518.37 438.92,512.07 439.5,506.8 C440.08,501.53 440.62,495.83 441.3,492.8 C441.98,489.77 442.83,488.78 443.6,488.6 C444.37,488.42 445.22,489.25 445.9,491.7 C446.58,494.15 447.02,497.85 447.7,503.3 C448.38,508.75 449.22,517.78 450,524.4 C450.78,531.02 451.52,537.17 452.4,543 C453.28,548.83 454.13,554.33 455.3,559.4 C456.47,564.47 457.95,569.12 459.4,573.4 C460.85,577.68 462.25,581.4 464,585.1 C465.75,588.8 468.07,592.55 469.9,595.6 C471.73,598.65 473.32,601.5 475,603.4 C476.68,605.3 478.5,606.25 480,607 C481.5,607.75 482.67,607.87 484,607.9 C485.33,607.93 486.43,607.6 488,607.2 C489.57,606.8 491.9,606.15 493.4,605.5 C494.9,604.85 495.83,604.07 497,603.3 C498.17,602.53 499.4,601.55 500.4,600.9 C501.4,600.25 502.23,599.68 503,599.4 C503.77,599.12 504.28,599.1 505,599.2 C505.72,599.3 506.52,599.6 507.3,600 C508.08,600.4 508.75,600.98 509.7,601.6 C510.65,602.22 511.83,603.05 513,603.7 C514.17,604.35 515.37,604.97 516.7,605.5 C518.03,606.03 519.45,606.5 521,606.9 C522.55,607.3 523.6,607.62 526,607.9 C528.4,608.18 529.73,608.45 535.4,608.6 C541.07,608.75 550.9,608.75 560,608.8 C569.1,608.85 580.67,608.87 590,608.9 C599.33,608.93 611.67,608.98 616,609" fill="none" stroke="#8a8a8a" stroke-width="3.2" stroke-linejoin="round" stroke-linecap="round" />
<path d="M385.4,611.2 C387.83,611.2 395.57,611.2 400,611.2 C404.43,611.2 408.83,611.4 412,611.2 C415.17,611 416.55,610.77 419,610 C421.45,609.23 424.7,607.55 426.7,606.6 C428.7,605.65 429.45,605.17 431,604.3 C432.55,603.43 434.5,602.35 436,601.4 C437.5,600.45 438.73,599.48 440,598.6 C441.27,597.72 442.52,596.23 443.6,596.1 C444.68,595.97 445.43,597.12 446.5,597.8 C447.57,598.48 448.67,599.27 450,600.2 C451.33,601.13 452.93,602.42 454.5,603.4 C456.07,604.38 457.65,605.3 459.4,606.1 C461.15,606.9 463.07,607.62 465,608.2 C466.93,608.78 468.83,609.27 471,609.6 C473.17,609.93 475.83,610.1 478,610.2 C480.17,610.3 481.5,610.32 484,610.2 C486.5,610.08 490.27,609.77 493,609.5 C495.73,609.23 498.2,608.87 500.4,608.6 C502.6,608.33 504.43,607.95 506.2,607.9 C507.97,607.85 509.25,608.12 511,608.3 C512.75,608.48 511.87,608.88 516.7,609 C521.53,609.12 529.45,609 540,609 C550.55,609 567.33,609 580,609 C592.67,609 610,609 616,609" fill="none" stroke="#000" stroke-width="3.5" stroke-linejoin="round" stroke-linecap="butt" stroke-dasharray="9.2,3.2"/>
<line x1="383.8" y1="648.4" x2="424.4" y2="648.4" stroke="#8a8a8a" stroke-width="3.2" />
<text x="431.1" y="654.16" font-size="15" text-anchor="start" font-weight="normal" fill="#231f20" stroke="#231f20" stroke-width="0.18" >XiaF/XiaP + <tspan font-weight="bold">10</tspan> (0.5 h)</text>
<line x1="383.8" y1="670.2" x2="424.6" y2="670.2" stroke="#000" stroke-width="3.6" stroke-dasharray="9.2,6.6"/>
<text x="431.1" y="675.66" font-size="15" text-anchor="start" font-weight="normal" fill="#231f20" stroke="#231f20" stroke-width="0.18" >XiaF + <tspan font-weight="bold">10</tspan> (0.5 h)</text>
<line x1="384.6" y1="693.3" x2="614.8" y2="693.3" stroke="#3a3a3a" stroke-width="1.2" />
<line x1="384.6" y1="693.3" x2="384.6" y2="697.6" stroke="#3a3a3a" stroke-width="1.2" />
<text x="383.3" y="716.46" font-size="15" text-anchor="middle" font-weight="normal" fill="#231f20" stroke="#231f20" stroke-width="0.18" >14.0</text>
<line x1="442.12" y1="693.3" x2="442.12" y2="697.6" stroke="#3a3a3a" stroke-width="1.2" />
<text x="440.82" y="716.46" font-size="15" text-anchor="middle" font-weight="normal" fill="#231f20" stroke="#231f20" stroke-width="0.18" >14.5</text>
<line x1="499.64" y1="693.3" x2="499.64" y2="697.6" stroke="#3a3a3a" stroke-width="1.2" />
<text x="498.34" y="716.46" font-size="15" text-anchor="middle" font-weight="normal" fill="#231f20" stroke="#231f20" stroke-width="0.18" >15.0</text>
<line x1="557.16" y1="693.3" x2="557.16" y2="697.6" stroke="#3a3a3a" stroke-width="1.2" />
<text x="555.86" y="716.46" font-size="15" text-anchor="middle" font-weight="normal" fill="#231f20" stroke="#231f20" stroke-width="0.18" >15.5</text>
<line x1="614.68" y1="693.3" x2="614.68" y2="697.6" stroke="#3a3a3a" stroke-width="1.2" />
<text x="613.38" y="716.46" font-size="15" text-anchor="middle" font-weight="normal" fill="#231f20" stroke="#231f20" stroke-width="0.18" >16.0</text>
<text x="479.3" y="739.16" font-size="15" text-anchor="start" font-weight="normal" fill="#231f20" stroke="#231f20" stroke-width="0.18" >t min<tspan font-size="9.5" dy="-6.3">−1</tspan></text>
<line x1="535.8" y1="735.3" x2="563.6" y2="735.3" stroke="#231f20" stroke-width="1.3" />
<polygon points="569.6,735.3 559.1,730.1 561.8,735.3 559.1,740.5" fill="#231f20"/>
<line x1="71.9" y1="788.3" x2="71.9" y2="1111.6" stroke="#5e5e5e" stroke-width="1.6" />
<line x1="65.9" y1="788.3" x2="71.9" y2="788.3" stroke="#5e5e5e" stroke-width="1.6" />
<text x="57.6" y="794.46" font-size="15" text-anchor="end" font-weight="normal" fill="#231f20" stroke="#231f20" stroke-width="0.18" >2.5</text>
<line x1="65.9" y1="851.7" x2="71.9" y2="851.7" stroke="#5e5e5e" stroke-width="1.6" />
<text x="57.6" y="857.86" font-size="15" text-anchor="end" font-weight="normal" fill="#231f20" stroke="#231f20" stroke-width="0.18" >2.0</text>
<line x1="65.9" y1="915.1" x2="71.9" y2="915.1" stroke="#5e5e5e" stroke-width="1.6" />
<text x="57.6" y="921.26" font-size="15" text-anchor="end" font-weight="normal" fill="#231f20" stroke="#231f20" stroke-width="0.18" >1.5</text>
<line x1="65.9" y1="978.5" x2="71.9" y2="978.5" stroke="#5e5e5e" stroke-width="1.6" />
<text x="57.6" y="984.66" font-size="15" text-anchor="end" font-weight="normal" fill="#231f20" stroke="#231f20" stroke-width="0.18" >1.0</text>
<line x1="65.9" y1="1041.9" x2="71.9" y2="1041.9" stroke="#5e5e5e" stroke-width="1.6" />
<text x="57.6" y="1048.06" font-size="15" text-anchor="end" font-weight="normal" fill="#231f20" stroke="#231f20" stroke-width="0.18" >0.5</text>
<text x="57.6" y="1111.46" font-size="15" text-anchor="end" font-weight="normal" fill="#231f20" stroke="#231f20" stroke-width="0.18" >0.0</text>
<line x1="65.5" y1="1105.3" x2="320.9" y2="1105.3" stroke="#3a3a3a" stroke-width="1.6" />
<line x1="154.9" y1="1105.3" x2="154.9" y2="1111.3" stroke="#3a3a3a" stroke-width="1.6" />
<line x1="237.9" y1="1105.3" x2="237.9" y2="1111.3" stroke="#3a3a3a" stroke-width="1.6" />
<line x1="320.9" y1="1105.3" x2="320.9" y2="1111.3" stroke="#3a3a3a" stroke-width="1.6" />
<text x="71.9" y="1129.56" font-size="15" text-anchor="middle" font-weight="normal" fill="#231f20" stroke="#231f20" stroke-width="0.18" >0</text>
<text x="154.9" y="1129.56" font-size="15" text-anchor="middle" font-weight="normal" fill="#231f20" stroke="#231f20" stroke-width="0.18" >10</text>
<text x="237.9" y="1129.56" font-size="15" text-anchor="middle" font-weight="normal" fill="#231f20" stroke="#231f20" stroke-width="0.18" >20</text>
<text x="320.9" y="1129.56" font-size="15" text-anchor="middle" font-weight="normal" fill="#231f20" stroke="#231f20" stroke-width="0.18" >30</text>
<text x="173.5" y="1151.76" font-size="15" text-anchor="start" font-weight="normal" fill="#231f20" stroke="#231f20" stroke-width="0.18" >t min<tspan font-size="9.5" dy="-6.3">−1</tspan></text>
<line x1="232.4" y1="1147.3" x2="259.8" y2="1147.3" stroke="#231f20" stroke-width="1.3" />
<polygon points="265.8,1147.3 255.3,1142.1 258,1147.3 255.3,1152.5" fill="#231f20"/>
<text transform="translate(13.9,985) rotate(-90)" font-size="15" fill="#231f20" stroke="#231f20" stroke-width="0.18">A<tspan font-size="10.5" dy="4.3">340 nm</tspan></text>
<line x1="25.6" y1="974.7" x2="25.6" y2="947" stroke="#231f20" stroke-width="1.3" />
<polygon points="25.6,941.5 30.9,951.7 25.6,949.1 20.3,951.7" fill="#231f20"/>
<polyline points="113.4,863.49 154.9,870.21 196.4,874.52 237.9,868.56 279.4,869.45 320.9,870.34" fill="none" stroke="#1212dc" stroke-width="3.8" stroke-linejoin="miter" stroke-linejoin="round"/>
<rect x="110" y="860.09" width="6.8" height="6.8" fill="#000"/>
<rect x="151.5" y="866.81" width="6.8" height="6.8" fill="#000"/>
<rect x="193" y="871.12" width="6.8" height="6.8" fill="#000"/>
<rect x="234.5" y="865.16" width="6.8" height="6.8" fill="#000"/>
<rect x="276" y="866.05" width="6.8" height="6.8" fill="#000"/>
<rect x="317.5" y="866.94" width="6.8" height="6.8" fill="#000"/>
<line x1="113.4" y1="857.79" x2="113.4" y2="869.2" stroke="#1212dc" stroke-width="1.6" />
<line x1="110.2" y1="857.79" x2="116.6" y2="857.79" stroke="#1212dc" stroke-width="2.0" />
<line x1="110.2" y1="869.2" x2="116.6" y2="869.2" stroke="#1212dc" stroke-width="2.0" />
<line x1="154.9" y1="862.6" x2="154.9" y2="877.82" stroke="#1212dc" stroke-width="1.6" />
<line x1="151.7" y1="862.6" x2="158.1" y2="862.6" stroke="#1212dc" stroke-width="2.0" />
<line x1="151.7" y1="877.82" x2="158.1" y2="877.82" stroke="#1212dc" stroke-width="2.0" />
<line x1="196.4" y1="866.92" x2="196.4" y2="882.13" stroke="#1212dc" stroke-width="1.6" />
<line x1="193.2" y1="866.92" x2="199.6" y2="866.92" stroke="#1212dc" stroke-width="2.0" />
<line x1="193.2" y1="882.13" x2="199.6" y2="882.13" stroke="#1212dc" stroke-width="2.0" />
<line x1="237.9" y1="862.22" x2="237.9" y2="874.9" stroke="#1212dc" stroke-width="1.6" />
<line x1="234.7" y1="862.22" x2="241.1" y2="862.22" stroke="#1212dc" stroke-width="2.0" />
<line x1="234.7" y1="874.9" x2="241.1" y2="874.9" stroke="#1212dc" stroke-width="2.0" />
<line x1="279.4" y1="863.11" x2="279.4" y2="875.79" stroke="#1212dc" stroke-width="1.6" />
<line x1="276.2" y1="863.11" x2="282.6" y2="863.11" stroke="#1212dc" stroke-width="2.0" />
<line x1="276.2" y1="875.79" x2="282.6" y2="875.79" stroke="#1212dc" stroke-width="2.0" />
<line x1="320.9" y1="864" x2="320.9" y2="876.68" stroke="#1212dc" stroke-width="1.6" />
<line x1="317.7" y1="864" x2="324.1" y2="864" stroke="#1212dc" stroke-width="2.0" />
<line x1="317.7" y1="876.68" x2="324.1" y2="876.68" stroke="#1212dc" stroke-width="2.0" />
<polyline points="113.4,854.74 154.9,859.31 196.4,862.99 237.9,866.16 279.4,865.77 320.9,867.42" fill="none" stroke="#1fe01f" stroke-width="3.8" stroke-linejoin="miter" stroke-linejoin="round"/>
<polygon points="110.6,852.14 116.2,852.14 113.4,857.74" fill="#000"/>
<polygon points="152.1,856.71 157.7,856.71 154.9,862.31" fill="#000"/>
<polygon points="193.6,860.39 199.2,860.39 196.4,865.99" fill="#000"/>
<polygon points="235.1,863.56 240.7,863.56 237.9,869.16" fill="#000"/>
<polygon points="276.6,863.17 282.2,863.17 279.4,868.77" fill="#000"/>
<polygon points="318.1,864.82 323.7,864.82 320.9,870.42" fill="#000"/>
<polyline points="113.4,838.64 154.9,839.91 196.4,842.19 237.9,847.01 279.4,845.36 320.9,846.63" fill="none" stroke="#c4145e" stroke-width="3.8" stroke-linejoin="miter" stroke-linejoin="round"/>
<circle cx="113.4" cy="838.64" r="3.7" fill="#000" stroke="#000" stroke-width="3.4"/>
<circle cx="154.9" cy="839.91" r="3.7" fill="#000" stroke="#000" stroke-width="3.4"/>
<circle cx="196.4" cy="842.19" r="3.7" fill="#000" stroke="#000" stroke-width="3.4"/>
<circle cx="237.9" cy="847.01" r="3.7" fill="#000" stroke="#000" stroke-width="3.4"/>
<circle cx="279.4" cy="845.36" r="3.7" fill="#000" stroke="#000" stroke-width="3.4"/>
<circle cx="320.9" cy="846.63" r="3.7" fill="#000" stroke="#000" stroke-width="3.4"/>
<line x1="113.4" y1="832.3" x2="113.4" y2="844.98" stroke="#c4145e" stroke-width="1.6" />
<line x1="110.2" y1="832.3" x2="116.6" y2="832.3" stroke="#c4145e" stroke-width="2.0" />
<line x1="110.2" y1="844.98" x2="116.6" y2="844.98" stroke="#c4145e" stroke-width="2.0" />
<line x1="154.9" y1="811.76" x2="154.9" y2="868.06" stroke="#c4145e" stroke-width="1.6" />
<line x1="151.7" y1="811.76" x2="158.1" y2="811.76" stroke="#c4145e" stroke-width="2.0" />
<line x1="151.7" y1="868.06" x2="158.1" y2="868.06" stroke="#c4145e" stroke-width="2.0" />
<line x1="196.4" y1="817.59" x2="196.4" y2="866.79" stroke="#c4145e" stroke-width="1.6" />
<line x1="193.2" y1="817.59" x2="199.6" y2="817.59" stroke="#c4145e" stroke-width="2.0" />
<line x1="193.2" y1="866.79" x2="199.6" y2="866.79" stroke="#c4145e" stroke-width="2.0" />
<line x1="237.9" y1="818.86" x2="237.9" y2="875.16" stroke="#c4145e" stroke-width="1.6" />
<line x1="234.7" y1="818.86" x2="241.1" y2="818.86" stroke="#c4145e" stroke-width="2.0" />
<line x1="234.7" y1="875.16" x2="241.1" y2="875.16" stroke="#c4145e" stroke-width="2.0" />
<line x1="279.4" y1="822.03" x2="279.4" y2="868.69" stroke="#c4145e" stroke-width="1.6" />
<line x1="276.2" y1="822.03" x2="282.6" y2="822.03" stroke="#c4145e" stroke-width="2.0" />
<line x1="276.2" y1="868.69" x2="282.6" y2="868.69" stroke="#c4145e" stroke-width="2.0" />
<line x1="320.9" y1="824.06" x2="320.9" y2="869.2" stroke="#c4145e" stroke-width="1.6" />
<line x1="317.7" y1="824.06" x2="324.1" y2="824.06" stroke="#c4145e" stroke-width="2.0" />
<line x1="317.7" y1="869.2" x2="324.1" y2="869.2" stroke="#c4145e" stroke-width="2.0" />
<path d="M113.4,892.28 C120.32,896.69 141.07,910.85 154.9,918.78 C168.73,926.7 182.57,933.15 196.4,939.83 C210.23,946.5 224.07,952.93 237.9,958.85 C251.73,964.76 265.57,970.05 279.4,975.33 C293.23,980.61 313.98,988.01 320.9,990.55" fill="none" stroke="#8ab4e4" stroke-width="3.8" stroke-linejoin="round" stroke-linecap="butt" />
<path d="M113.4,899.25 C120.32,903.9 141.07,918.61 154.9,927.15 C168.73,935.68 182.57,943.21 196.4,950.48 C210.23,957.75 224.07,963.47 237.9,970.77 C251.73,978.06 265.57,986.17 279.4,994.22 C293.23,1002.27 313.98,1014.93 320.9,1019.08" fill="none" stroke="#90ee8c" stroke-width="3.8" stroke-linejoin="round" stroke-linecap="butt" />
<path d="M113.4,901.79 C120.32,906.75 141.07,922.71 154.9,931.58 C168.73,940.46 182.57,947.75 196.4,955.04 C210.23,962.33 224.07,969.31 237.9,975.33 C251.73,981.35 265.57,985.73 279.4,991.18 C293.23,996.63 313.98,1005.23 320.9,1008.04" fill="none" stroke="#9b9b9b" stroke-width="3.8" stroke-linejoin="round" stroke-linecap="butt" />
<line x1="113.4" y1="885.05" x2="113.4" y2="902.8" stroke="#8ab4e4" stroke-width="1.6" />
<line x1="110.2" y1="885.05" x2="116.6" y2="885.05" stroke="#8ab4e4" stroke-width="2.0" />
<line x1="110.2" y1="902.8" x2="116.6" y2="902.8" stroke="#8ab4e4" stroke-width="2.0" />
<line x1="154.9" y1="917.89" x2="154.9" y2="930.57" stroke="#8ab4e4" stroke-width="1.6" />
<line x1="151.7" y1="917.89" x2="158.1" y2="917.89" stroke="#8ab4e4" stroke-width="2.0" />
<line x1="151.7" y1="930.57" x2="158.1" y2="930.57" stroke="#8ab4e4" stroke-width="2.0" />
<line x1="196.4" y1="930.19" x2="196.4" y2="947.94" stroke="#8ab4e4" stroke-width="1.6" />
<line x1="193.2" y1="930.19" x2="199.6" y2="930.19" stroke="#8ab4e4" stroke-width="2.0" />
<line x1="193.2" y1="947.94" x2="199.6" y2="947.94" stroke="#8ab4e4" stroke-width="2.0" />
<line x1="237.9" y1="948.07" x2="237.9" y2="968.36" stroke="#8ab4e4" stroke-width="1.6" />
<line x1="234.7" y1="948.07" x2="241.1" y2="948.07" stroke="#8ab4e4" stroke-width="2.0" />
<line x1="234.7" y1="968.36" x2="241.1" y2="968.36" stroke="#8ab4e4" stroke-width="2.0" />
<line x1="279.4" y1="964.04" x2="279.4" y2="986.87" stroke="#8ab4e4" stroke-width="1.6" />
<line x1="276.2" y1="964.04" x2="282.6" y2="964.04" stroke="#8ab4e4" stroke-width="2.0" />
<line x1="276.2" y1="986.87" x2="282.6" y2="986.87" stroke="#8ab4e4" stroke-width="2.0" />
<line x1="320.9" y1="979.01" x2="320.9" y2="1001.83" stroke="#8ab4e4" stroke-width="1.6" />
<line x1="317.7" y1="979.01" x2="324.1" y2="979.01" stroke="#8ab4e4" stroke-width="2.0" />
<line x1="317.7" y1="1001.83" x2="324.1" y2="1001.83" stroke="#8ab4e4" stroke-width="2.0" />
<line x1="113.4" y1="892.28" x2="113.4" y2="904.96" stroke="#90ee8c" stroke-width="1.6" />
<line x1="110.2" y1="892.28" x2="116.6" y2="892.28" stroke="#90ee8c" stroke-width="2.0" />
<line x1="110.2" y1="904.96" x2="116.6" y2="904.96" stroke="#90ee8c" stroke-width="2.0" />
<line x1="154.9" y1="921.95" x2="154.9" y2="934.63" stroke="#90ee8c" stroke-width="1.6" />
<line x1="151.7" y1="921.95" x2="158.1" y2="921.95" stroke="#90ee8c" stroke-width="2.0" />
<line x1="151.7" y1="934.63" x2="158.1" y2="934.63" stroke="#90ee8c" stroke-width="2.0" />
<line x1="196.4" y1="944.64" x2="196.4" y2="957.32" stroke="#90ee8c" stroke-width="1.6" />
<line x1="193.2" y1="944.64" x2="199.6" y2="944.64" stroke="#90ee8c" stroke-width="2.0" />
<line x1="193.2" y1="957.32" x2="199.6" y2="957.32" stroke="#90ee8c" stroke-width="2.0" />
<line x1="237.9" y1="963.28" x2="237.9" y2="978.5" stroke="#90ee8c" stroke-width="1.6" />
<line x1="234.7" y1="963.28" x2="241.1" y2="963.28" stroke="#90ee8c" stroke-width="2.0" />
<line x1="234.7" y1="978.5" x2="241.1" y2="978.5" stroke="#90ee8c" stroke-width="2.0" />
<line x1="279.4" y1="977.74" x2="279.4" y2="1015.78" stroke="#90ee8c" stroke-width="1.6" />
<line x1="276.2" y1="977.74" x2="282.6" y2="977.74" stroke="#90ee8c" stroke-width="2.0" />
<line x1="276.2" y1="1015.78" x2="282.6" y2="1015.78" stroke="#90ee8c" stroke-width="2.0" />
<line x1="320.9" y1="998.91" x2="320.9" y2="1039.49" stroke="#90ee8c" stroke-width="1.6" />
<line x1="317.7" y1="998.91" x2="324.1" y2="998.91" stroke="#90ee8c" stroke-width="2.0" />
<line x1="317.7" y1="1039.49" x2="324.1" y2="1039.49" stroke="#90ee8c" stroke-width="2.0" />
<polygon points="113.4,887.62 106.9,900.22 119.9,900.22" fill="#000"/>
<polygon points="154.9,917.93 148.4,930.53 161.4,930.53" fill="#000"/>
<polygon points="196.4,932.77 189.9,945.37 202.9,945.37" fill="#000"/>
<polygon points="237.9,951.91 231.4,964.51 244.4,964.51" fill="#000"/>
<polygon points="279.4,969.16 272.9,981.76 285.9,981.76" fill="#000"/>
<polygon points="320.9,984.12 314.4,996.72 327.4,996.72" fill="#000"/>
<polygon points="113.4,892.32 119.7,898.62 113.4,904.92 107.1,898.62" fill="#000"/>
<polygon points="154.9,921.99 161.2,928.29 154.9,934.59 148.6,928.29" fill="#000"/>
<polygon points="196.4,944.68 202.7,950.98 196.4,957.28 190.1,950.98" fill="#000"/>
<polygon points="237.9,964.59 244.2,970.89 237.9,977.19 231.6,970.89" fill="#000"/>
<polygon points="279.4,990.46 285.7,996.76 279.4,1003.06 273.1,996.76" fill="#000"/>
<polygon points="320.9,1012.9 327.2,1019.2 320.9,1025.5 314.6,1019.2" fill="#000"/>
<polygon points="113.4,897.35 114.34,899.86 117.01,899.98 114.92,901.65 115.63,904.23 113.4,902.75 111.17,904.23 111.88,901.65 109.79,899.98 112.46,899.86" fill="#000"/>
<polygon points="154.9,929.18 155.84,931.68 158.51,931.8 156.42,933.47 157.13,936.05 154.9,934.58 152.67,936.05 153.38,933.47 151.29,931.8 153.96,931.68" fill="#000"/>
<polygon points="196.4,951.75 197.34,954.25 200.01,954.37 197.92,956.04 198.63,958.62 196.4,957.15 194.17,958.62 194.88,956.04 192.79,954.37 195.46,954.25" fill="#000"/>
<polygon points="237.9,972.16 238.84,974.67 241.51,974.79 239.42,976.46 240.13,979.04 237.9,977.56 235.67,979.04 236.38,976.46 234.29,974.79 236.96,974.67" fill="#000"/>
<polygon points="279.4,988.27 280.34,990.77 283.01,990.89 280.92,992.56 281.63,995.14 279.4,993.67 277.17,995.14 277.88,992.56 275.79,990.89 278.46,990.77" fill="#000"/>
<polygon points="320.9,1003.74 321.84,1006.24 324.51,1006.36 322.42,1008.03 323.13,1010.61 320.9,1009.14 318.67,1010.61 319.38,1008.03 317.29,1006.36 319.96,1006.24" fill="#000"/>
<line x1="113.4" y1="882.13" x2="113.4" y2="920.17" stroke="#a8a8a8" stroke-width="1.6" />
<line x1="110.2" y1="882.13" x2="116.6" y2="882.13" stroke="#a8a8a8" stroke-width="2.0" />
<line x1="110.2" y1="920.17" x2="116.6" y2="920.17" stroke="#a8a8a8" stroke-width="2.0" />
<line x1="154.9" y1="913.96" x2="154.9" y2="952" stroke="#a8a8a8" stroke-width="1.6" />
<line x1="151.7" y1="913.96" x2="158.1" y2="913.96" stroke="#a8a8a8" stroke-width="2.0" />
<line x1="151.7" y1="952" x2="158.1" y2="952" stroke="#a8a8a8" stroke-width="2.0" />
<line x1="196.4" y1="937.8" x2="196.4" y2="973.3" stroke="#a8a8a8" stroke-width="1.6" />
<line x1="193.2" y1="937.8" x2="199.6" y2="937.8" stroke="#a8a8a8" stroke-width="2.0" />
<line x1="193.2" y1="973.3" x2="199.6" y2="973.3" stroke="#a8a8a8" stroke-width="2.0" />
<line x1="237.9" y1="956.94" x2="237.9" y2="994.98" stroke="#a8a8a8" stroke-width="1.6" />
<line x1="234.7" y1="956.94" x2="241.1" y2="956.94" stroke="#a8a8a8" stroke-width="2.0" />
<line x1="234.7" y1="994.98" x2="241.1" y2="994.98" stroke="#a8a8a8" stroke-width="2.0" />
<line x1="279.4" y1="976.85" x2="279.4" y2="1007.28" stroke="#a8a8a8" stroke-width="1.6" />
<line x1="276.2" y1="976.85" x2="282.6" y2="976.85" stroke="#a8a8a8" stroke-width="2.0" />
<line x1="276.2" y1="1007.28" x2="282.6" y2="1007.28" stroke="#a8a8a8" stroke-width="2.0" />
<line x1="320.9" y1="994.86" x2="320.9" y2="1020.22" stroke="#a8a8a8" stroke-width="1.6" />
<line x1="317.7" y1="994.86" x2="324.1" y2="994.86" stroke="#a8a8a8" stroke-width="2.0" />
<line x1="317.7" y1="1020.22" x2="324.1" y2="1020.22" stroke="#a8a8a8" stroke-width="2.0" />
<polyline points="113.4,831.03 154.9,833.31 196.4,835.85 237.9,839.78 279.4,841.94 320.9,843.08" fill="none" stroke="#0b0b78" stroke-width="3.8" stroke-linejoin="miter" stroke-linejoin="round"/>
<circle cx="113.4" cy="831.03" r="2.9" fill="#000"/>
<circle cx="154.9" cy="833.31" r="2.9" fill="#000"/>
<circle cx="196.4" cy="835.85" r="2.9" fill="#000"/>
<circle cx="237.9" cy="839.78" r="2.9" fill="#000"/>
<circle cx="279.4" cy="841.94" r="2.9" fill="#000"/>
<circle cx="320.9" cy="843.08" r="2.9" fill="#000"/>
<line x1="113.4" y1="825.96" x2="113.4" y2="836.1" stroke="#0b0b78" stroke-width="1.6" />
<line x1="110.2" y1="825.96" x2="116.6" y2="825.96" stroke="#0b0b78" stroke-width="2.0" />
<line x1="110.2" y1="836.1" x2="116.6" y2="836.1" stroke="#0b0b78" stroke-width="2.0" />
<line x1="154.9" y1="825.71" x2="154.9" y2="840.92" stroke="#0b0b78" stroke-width="1.6" />
<line x1="151.7" y1="825.71" x2="158.1" y2="825.71" stroke="#0b0b78" stroke-width="2.0" />
<line x1="151.7" y1="840.92" x2="158.1" y2="840.92" stroke="#0b0b78" stroke-width="2.0" />
<line x1="196.4" y1="828.24" x2="196.4" y2="843.46" stroke="#0b0b78" stroke-width="1.6" />
<line x1="193.2" y1="828.24" x2="199.6" y2="828.24" stroke="#0b0b78" stroke-width="2.0" />
<line x1="193.2" y1="843.46" x2="199.6" y2="843.46" stroke="#0b0b78" stroke-width="2.0" />
<line x1="237.9" y1="833.44" x2="237.9" y2="846.12" stroke="#0b0b78" stroke-width="1.6" />
<line x1="234.7" y1="833.44" x2="241.1" y2="833.44" stroke="#0b0b78" stroke-width="2.0" />
<line x1="234.7" y1="846.12" x2="241.1" y2="846.12" stroke="#0b0b78" stroke-width="2.0" />
<line x1="279.4" y1="835.6" x2="279.4" y2="848.28" stroke="#0b0b78" stroke-width="1.6" />
<line x1="276.2" y1="835.6" x2="282.6" y2="835.6" stroke="#0b0b78" stroke-width="2.0" />
<line x1="276.2" y1="848.28" x2="282.6" y2="848.28" stroke="#0b0b78" stroke-width="2.0" />
<line x1="320.9" y1="836.74" x2="320.9" y2="849.42" stroke="#0b0b78" stroke-width="1.6" />
<line x1="317.7" y1="836.74" x2="324.1" y2="836.74" stroke="#0b0b78" stroke-width="2.0" />
<line x1="317.7" y1="849.42" x2="324.1" y2="849.42" stroke="#0b0b78" stroke-width="2.0" />
<polyline points="113.4,830.14 154.9,832.68 196.4,835.22 237.9,839.4 279.4,841.56 320.9,842.7" fill="none" stroke="#14632a" stroke-width="3.8" stroke-linejoin="miter" stroke-linejoin="round"/>
<polygon points="113.4,826.34 109.8,832.74 117,832.74" fill="#000"/>
<polygon points="154.9,828.88 151.3,835.28 158.5,835.28" fill="#000"/>
<polygon points="196.4,831.42 192.8,837.82 200,837.82" fill="#000"/>
<polygon points="237.9,835.6 234.3,842 241.5,842" fill="#000"/>
<polygon points="279.4,837.76 275.8,844.16 283,844.16" fill="#000"/>
<polygon points="320.9,838.9 317.3,845.3 324.5,845.3" fill="#000"/>
<polyline points="113.4,839.15 154.9,850.94 196.4,856.39 237.9,866.54 279.4,870.34 320.9,872.5" fill="none" stroke="#a3121a" stroke-width="3.8" stroke-linejoin="miter" stroke-linejoin="round"/>
<polygon points="113.4,835.35 117,839.15 113.4,842.95 109.8,839.15" fill="#000"/>
<polygon points="154.9,847.14 158.5,850.94 154.9,854.74 151.3,850.94" fill="#000"/>
<polygon points="196.4,852.59 200,856.39 196.4,860.19 192.8,856.39" fill="#000"/>
<polygon points="237.9,862.74 241.5,866.54 237.9,870.34 234.3,866.54" fill="#000"/>
<polygon points="279.4,866.54 283,870.34 279.4,874.14 275.8,870.34" fill="#000"/>
<polygon points="320.9,868.7 324.5,872.5 320.9,876.3 317.3,872.5" fill="#000"/>
<line x1="113.4" y1="834.07" x2="113.4" y2="844.22" stroke="#a3121a" stroke-width="1.6" />
<line x1="110.2" y1="834.07" x2="116.6" y2="834.07" stroke="#a3121a" stroke-width="2.0" />
<line x1="110.2" y1="844.22" x2="116.6" y2="844.22" stroke="#a3121a" stroke-width="2.0" />
<line x1="154.9" y1="844.6" x2="154.9" y2="857.28" stroke="#a3121a" stroke-width="1.6" />
<line x1="151.7" y1="844.6" x2="158.1" y2="844.6" stroke="#a3121a" stroke-width="2.0" />
<line x1="151.7" y1="857.28" x2="158.1" y2="857.28" stroke="#a3121a" stroke-width="2.0" />
<line x1="196.4" y1="850.05" x2="196.4" y2="862.73" stroke="#a3121a" stroke-width="1.6" />
<line x1="193.2" y1="850.05" x2="199.6" y2="850.05" stroke="#a3121a" stroke-width="2.0" />
<line x1="193.2" y1="862.73" x2="199.6" y2="862.73" stroke="#a3121a" stroke-width="2.0" />
<line x1="237.9" y1="860.2" x2="237.9" y2="872.88" stroke="#a3121a" stroke-width="1.6" />
<line x1="234.7" y1="860.2" x2="241.1" y2="860.2" stroke="#a3121a" stroke-width="2.0" />
<line x1="234.7" y1="872.88" x2="241.1" y2="872.88" stroke="#a3121a" stroke-width="2.0" />
<line x1="279.4" y1="864" x2="279.4" y2="876.68" stroke="#a3121a" stroke-width="1.6" />
<line x1="276.2" y1="864" x2="282.6" y2="864" stroke="#a3121a" stroke-width="2.0" />
<line x1="276.2" y1="876.68" x2="282.6" y2="876.68" stroke="#a3121a" stroke-width="2.0" />
<line x1="320.9" y1="866.16" x2="320.9" y2="878.84" stroke="#a3121a" stroke-width="1.6" />
<line x1="317.7" y1="866.16" x2="324.1" y2="866.16" stroke="#a3121a" stroke-width="2.0" />
<line x1="317.7" y1="878.84" x2="324.1" y2="878.84" stroke="#a3121a" stroke-width="2.0" />
<polyline points="113.4,826.34 154.9,837.24 196.4,840.54 237.9,842.95 279.4,844.47 320.9,845.74" fill="none" stroke="#62a2e6" stroke-width="3.8" stroke-linejoin="miter" stroke-linejoin="round"/>
<rect x="108.2" y="821.14" width="10.4" height="10.4" fill="#000"/><rect x="111.2" y="824.14" width="4.4" height="4.4" fill="#62a2e6"/>
<rect x="149.7" y="832.04" width="10.4" height="10.4" fill="#000"/><rect x="152.7" y="835.04" width="4.4" height="4.4" fill="#62a2e6"/>
<rect x="191.2" y="835.34" width="10.4" height="10.4" fill="#000"/><rect x="194.2" y="838.34" width="4.4" height="4.4" fill="#62a2e6"/>
<rect x="232.7" y="837.75" width="10.4" height="10.4" fill="#000"/><rect x="235.7" y="840.75" width="4.4" height="4.4" fill="#62a2e6"/>
<rect x="274.2" y="839.27" width="10.4" height="10.4" fill="#000"/><rect x="277.2" y="842.27" width="4.4" height="4.4" fill="#62a2e6"/>
<rect x="315.7" y="840.54" width="10.4" height="10.4" fill="#000"/><rect x="318.7" y="843.54" width="4.4" height="4.4" fill="#62a2e6"/>
<polyline points="113.4,817.59 154.9,839.4 196.4,844.47 237.9,849.29 279.4,851.57 320.9,852.33" fill="none" stroke="#1bb07c" stroke-width="3.8" stroke-linejoin="miter" stroke-linejoin="round"/>
<polygon points="107.1,811.59 119.7,811.59 113.4,824.09" fill="#000"/>
<polygon points="148.6,833.4 161.2,833.4 154.9,845.9" fill="#000"/>
<polygon points="190.1,838.47 202.7,838.47 196.4,850.97" fill="#000"/>
<polygon points="231.6,843.29 244.2,843.29 237.9,855.79" fill="#000"/>
<polygon points="273.1,845.57 285.7,845.57 279.4,858.07" fill="#000"/>
<polygon points="314.6,846.33 327.2,846.33 320.9,858.83" fill="#000"/>
<line x1="113.4" y1="802.37" x2="113.4" y2="832.81" stroke="#1bb07c" stroke-width="1.6" />
<line x1="110.2" y1="802.37" x2="116.6" y2="802.37" stroke="#1bb07c" stroke-width="2.0" />
<line x1="110.2" y1="832.81" x2="116.6" y2="832.81" stroke="#1bb07c" stroke-width="2.0" />
<line x1="154.9" y1="833.06" x2="154.9" y2="845.74" stroke="#1bb07c" stroke-width="1.6" />
<line x1="151.7" y1="833.06" x2="158.1" y2="833.06" stroke="#1bb07c" stroke-width="2.0" />
<line x1="151.7" y1="845.74" x2="158.1" y2="845.74" stroke="#1bb07c" stroke-width="2.0" />
<line x1="196.4" y1="838.13" x2="196.4" y2="850.81" stroke="#1bb07c" stroke-width="1.6" />
<line x1="193.2" y1="838.13" x2="199.6" y2="838.13" stroke="#1bb07c" stroke-width="2.0" />
<line x1="193.2" y1="850.81" x2="199.6" y2="850.81" stroke="#1bb07c" stroke-width="2.0" />
<line x1="237.9" y1="842.95" x2="237.9" y2="855.63" stroke="#1bb07c" stroke-width="1.6" />
<line x1="234.7" y1="842.95" x2="241.1" y2="842.95" stroke="#1bb07c" stroke-width="2.0" />
<line x1="234.7" y1="855.63" x2="241.1" y2="855.63" stroke="#1bb07c" stroke-width="2.0" />
<line x1="279.4" y1="845.23" x2="279.4" y2="857.91" stroke="#1bb07c" stroke-width="1.6" />
<line x1="276.2" y1="845.23" x2="282.6" y2="845.23" stroke="#1bb07c" stroke-width="2.0" />
<line x1="276.2" y1="857.91" x2="282.6" y2="857.91" stroke="#1bb07c" stroke-width="2.0" />
<line x1="320.9" y1="845.99" x2="320.9" y2="858.67" stroke="#1bb07c" stroke-width="1.6" />
<line x1="317.7" y1="845.99" x2="324.1" y2="845.99" stroke="#1bb07c" stroke-width="2.0" />
<line x1="317.7" y1="858.67" x2="324.1" y2="858.67" stroke="#1bb07c" stroke-width="2.0" />
<polyline points="113.4,844.35 154.9,863.75 196.4,868.94 237.9,873.13 279.4,876.3 320.9,879.98" fill="none" stroke="#676767" stroke-width="3.8" stroke-linejoin="miter" stroke-linejoin="round"/>
<circle cx="113.4" cy="844.35" r="5.9" fill="#000"/>
<circle cx="154.9" cy="863.75" r="5.9" fill="#000"/>
<circle cx="196.4" cy="868.94" r="5.9" fill="#000"/>
<circle cx="237.9" cy="873.13" r="5.9" fill="#000"/>
<circle cx="279.4" cy="876.3" r="5.9" fill="#000"/>
<circle cx="320.9" cy="879.98" r="5.9" fill="#000"/>
<line x1="113.4" y1="838.01" x2="113.4" y2="850.69" stroke="#676767" stroke-width="1.6" />
<line x1="110.2" y1="838.01" x2="116.6" y2="838.01" stroke="#676767" stroke-width="2.0" />
<line x1="110.2" y1="850.69" x2="116.6" y2="850.69" stroke="#676767" stroke-width="2.0" />
<line x1="154.9" y1="857.41" x2="154.9" y2="870.09" stroke="#676767" stroke-width="1.6" />
<line x1="151.7" y1="857.41" x2="158.1" y2="857.41" stroke="#676767" stroke-width="2.0" />
<line x1="151.7" y1="870.09" x2="158.1" y2="870.09" stroke="#676767" stroke-width="2.0" />
<line x1="196.4" y1="861.34" x2="196.4" y2="876.55" stroke="#676767" stroke-width="1.6" />
<line x1="193.2" y1="861.34" x2="199.6" y2="861.34" stroke="#676767" stroke-width="2.0" />
<line x1="193.2" y1="876.55" x2="199.6" y2="876.55" stroke="#676767" stroke-width="2.0" />
<line x1="237.9" y1="865.52" x2="237.9" y2="880.74" stroke="#676767" stroke-width="1.6" />
<line x1="234.7" y1="865.52" x2="241.1" y2="865.52" stroke="#676767" stroke-width="2.0" />
<line x1="234.7" y1="880.74" x2="241.1" y2="880.74" stroke="#676767" stroke-width="2.0" />
<line x1="279.4" y1="868.69" x2="279.4" y2="883.91" stroke="#676767" stroke-width="1.6" />
<line x1="276.2" y1="868.69" x2="282.6" y2="868.69" stroke="#676767" stroke-width="2.0" />
<line x1="276.2" y1="883.91" x2="282.6" y2="883.91" stroke="#676767" stroke-width="2.0" />
<line x1="320.9" y1="872.37" x2="320.9" y2="887.58" stroke="#676767" stroke-width="1.6" />
<line x1="317.7" y1="872.37" x2="324.1" y2="872.37" stroke="#676767" stroke-width="2.0" />
<line x1="317.7" y1="887.58" x2="324.1" y2="887.58" stroke="#676767" stroke-width="2.0" />
<line x1="353" y1="826.8" x2="394" y2="826.8" stroke="#0b0b78" stroke-width="3.6" />
<circle cx="373.5" cy="826.8" r="2.9" fill="#000"/>
<text x="400.6" y="833.75" font-size="15.25" text-anchor="start" font-weight="normal" fill="#231f20" stroke="#231f20" stroke-width="0.18" >1.5 mM NADPH + 40 µM FAD</text>
<line x1="353" y1="849.2" x2="394" y2="849.2" stroke="#14632a" stroke-width="3.6" />
<polygon points="373.5,845.4 369.9,851.8 377.1,851.8" fill="#000"/>
<text x="400.6" y="856.15" font-size="15.25" text-anchor="start" font-weight="normal" fill="#231f20" stroke="#231f20" stroke-width="0.18" >1.5 mM NADPH + 40 µM FMN</text>
<line x1="353" y1="871" x2="394" y2="871" stroke="#a3121a" stroke-width="3.6" />
<polygon points="373.5,867.2 377.1,871 373.5,874.8 369.9,871" fill="#000"/>
<text x="400.6" y="877.95" font-size="15.25" text-anchor="start" font-weight="normal" fill="#231f20" stroke="#231f20" stroke-width="0.18" >1.5 mM NADPH + 40 µM riboflavin</text>
<line x1="353" y1="902.4" x2="394" y2="902.4" stroke="#62a2e6" stroke-width="3.6" />
<rect x="368.3" y="897.2" width="10.4" height="10.4" fill="#000"/><rect x="371.3" y="900.2" width="4.4" height="4.4" fill="#62a2e6"/>
<text x="400.6" y="909.35" font-size="15.25" text-anchor="start" font-weight="normal" fill="#231f20" stroke="#231f20" stroke-width="0.18" >1.5 mM NADH + 40 µM FAD</text>
<line x1="353" y1="925" x2="394" y2="925" stroke="#1bb07c" stroke-width="3.6" />
<polygon points="367.2,919 379.8,919 373.5,931.5" fill="#000"/>
<text x="400.6" y="931.95" font-size="15.25" text-anchor="start" font-weight="normal" fill="#231f20" stroke="#231f20" stroke-width="0.18" >1.5 mM NADH + 40 µM FMN</text>
<line x1="353" y1="946.8" x2="394" y2="946.8" stroke="#676767" stroke-width="3.6" />
<circle cx="373.5" cy="946.8" r="5.9" fill="#000"/>
<text x="400.6" y="953.75" font-size="15.25" text-anchor="start" font-weight="normal" fill="#231f20" stroke="#231f20" stroke-width="0.18" >1.5 mM NADH + 40 µM riboflavin</text>
<line x1="353" y1="978.3" x2="394" y2="978.3" stroke="#1212dc" stroke-width="3.6" />
<rect x="370.1" y="974.9" width="6.8" height="6.8" fill="#000"/>
<text x="400.6" y="985.25" font-size="15.25" text-anchor="start" font-weight="normal" fill="#231f20" stroke="#231f20" stroke-width="0.18" >XiaP + 1.5 mM NADPH + 40 µM FAD</text>
<line x1="353" y1="999.5" x2="394" y2="999.5" stroke="#1fe01f" stroke-width="3.6" />
<polygon points="370.7,996.9 376.3,996.9 373.5,1002.5" fill="#000"/>
<text x="400.6" y="1006.45" font-size="15.25" text-anchor="start" font-weight="normal" fill="#231f20" stroke="#231f20" stroke-width="0.18" >XiaP + 1.5 mM NADPH + 40 µM FMN</text>
<line x1="353" y1="1021" x2="394" y2="1021" stroke="#c4145e" stroke-width="3.6" />
<circle cx="373.5" cy="1021" r="3.7" fill="#c4145e" stroke="#000" stroke-width="3.4"/>
<text x="400.6" y="1027.95" font-size="15.25" text-anchor="start" font-weight="normal" fill="#231f20" stroke="#231f20" stroke-width="0.18" >XiaP + 1.5 mM NADPH + 40 µM riboflavin</text>
<line x1="353" y1="1054.2" x2="394" y2="1054.2" stroke="#8ab4e4" stroke-width="3.6" />
<polygon points="373.5,1047.9 367,1060.5 380,1060.5" fill="#000"/>
<text x="400.6" y="1061.15" font-size="15.25" text-anchor="start" font-weight="normal" fill="#231f20" stroke="#231f20" stroke-width="0.18" >XiaP + 1.5 mM NADH + 40 µM FAD</text>
<line x1="353" y1="1075.5" x2="394" y2="1075.5" stroke="#90ee8c" stroke-width="3.6" />
<polygon points="373.5,1069.2 379.8,1075.5 373.5,1081.8 367.2,1075.5" fill="#000"/>
<rect x="372.2" y="1074.2" width="2.6" height="2.6" fill="#90ee8c" transform="rotate(45 373.5 1075.5)"/>
<text x="400.6" y="1082.45" font-size="15.25" text-anchor="start" font-weight="normal" fill="#231f20" stroke="#231f20" stroke-width="0.18" >XiaP + 1.5 mM NADH + 40 µM FMN</text>
<line x1="353" y1="1096.6" x2="394" y2="1096.6" stroke="#9b9b9b" stroke-width="3.6" />
<polygon points="373.5,1092.8 374.44,1095.31 377.11,1095.43 375.02,1097.09 375.73,1099.67 373.5,1098.2 371.27,1099.67 371.98,1097.09 369.89,1095.43 372.56,1095.31" fill="#000"/>
<text x="400.6" y="1103.55" font-size="15.25" text-anchor="start" font-weight="normal" fill="#231f20" stroke="#231f20" stroke-width="0.18" >XiaP + 1.5 mM NADH + 40 µM riboflavin</text>
</svg>
</body></html>
